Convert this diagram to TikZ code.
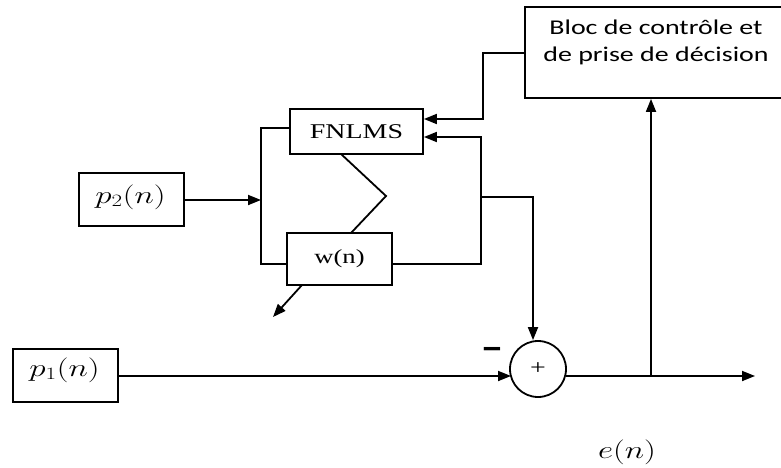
\documentclass[tikz,border=0pt]{standalone}
\usepackage{fontspec}
\usepackage{graphicx}
\setmainfont{Liberation Serif}
\newfontfamily\calfont{Carlito}
\usetikzlibrary{arrows.meta}
\newcommand{\hs}[1]{\scalebox{1.33}[1]{#1}}
\begin{document}
\begin{tikzpicture}[x=1pt,y=-1pt,
  line width=1.8pt,
  box/.style={draw,rectangle,inner sep=0pt},
  arr/.style={-{Triangle[length=13pt,width=10pt]}},
  lbl/.style={inner sep=0pt}]
\useasboundingbox (0,0) rectangle (781,468);
% boxes
\node[box,minimum width=263pt,minimum height=91pt] (bloc) at (656.5,52.5) {};
\node[lbl,align=center,font=\calfont\fontsize{21}{27}\selectfont] (bloctxt) at (656,42)
  {\hs{Bloc de contrôle et}\\\hs{de prise de décision}};
\node[box,minimum width=133pt,minimum height=45pt,font=\fontsize{21}{24}\selectfont] (fnlms) at (356.5,131.5) {\hs{FNLMS}};
\node[box,minimum width=105pt,minimum height=52pt,font=\fontsize{20}{22}\selectfont] (w) at (339.5,259) {\hs{w(n)}};
\node[box,minimum width=105pt,minimum height=53pt] (p2) at (131.5,199.5) {};
\node[lbl,font=\fontsize{23}{26}\selectfont] (p2t) at (130.5,197) {\hs{$p_2(n)$}};
\node[box,minimum width=105pt,minimum height=53pt] (p1) at (65.5,375.5) {};
\node[lbl,font=\fontsize{23}{26}\selectfont] (p1t) at (64.5,370) {\hs{$p_1(n)$}};
\node[draw,circle,minimum size=56pt,inner sep=0pt,font=\fontsize{21}{22}\selectfont] (sum) at (538,369) {\hs{+}};
\node[lbl,font=\calfont\bfseries\fontsize{30}{30}\selectfont] (minus) at (492,354) {\scalebox{1.4}[1.2]{−}};
\node[lbl,font=\fontsize{23}{26}\selectfont] (en) at (627,452) {\hs{$e(n)$}};
% coordinates
\coordinate (l1) at (261,128);
\coordinate (l2) at (261,264);
\coordinate (ja) at (261,200);
\coordinate (r1) at (481,264);
\coordinate (r2) at (481,137);
\coordinate (rb) at (481,197);
\coordinate (rc) at (533,197);
\coordinate (b1) at (483,53);
\coordinate (b2) at (483,119);
\coordinate (z1) at (341,154);
\coordinate (z2) at (386,196);
\coordinate (z3) at (351,233);
\coordinate (d1) at (302,285);
\coordinate (d2) at (273,317);
\coordinate (m1) at (118,376);
\coordinate (m2) at (511,376);
\coordinate (o1) at (566,376);
\coordinate (o2) at (755,376);
\coordinate (t1) at (651,376);
% connectors
\draw[arr] (p2.east |- ja) -- (ja);
\draw (fnlms.west |- l1) -- (l1) -- (l2) -- (w.west |- l2);
\draw (z1) -- (z2) -- (z3);
\draw[arr] (w.east |- r1) -- (r1) -- (r2) -- (fnlms.east |- r2);
\draw[arr] (rb) -- (rc) -- (sum.north -| rc);
\draw[arr] (bloc.west |- b1) -- (b1) -- (b2) -- (fnlms.east |- b2);
\draw[arr] (d1) -- (d2);
\draw[arr] (m1) -- (m2);
\draw[arr] (o1) -- (o2);
\draw[arr] (t1) -- (bloc.south -| t1);
\end{tikzpicture}
\end{document}
